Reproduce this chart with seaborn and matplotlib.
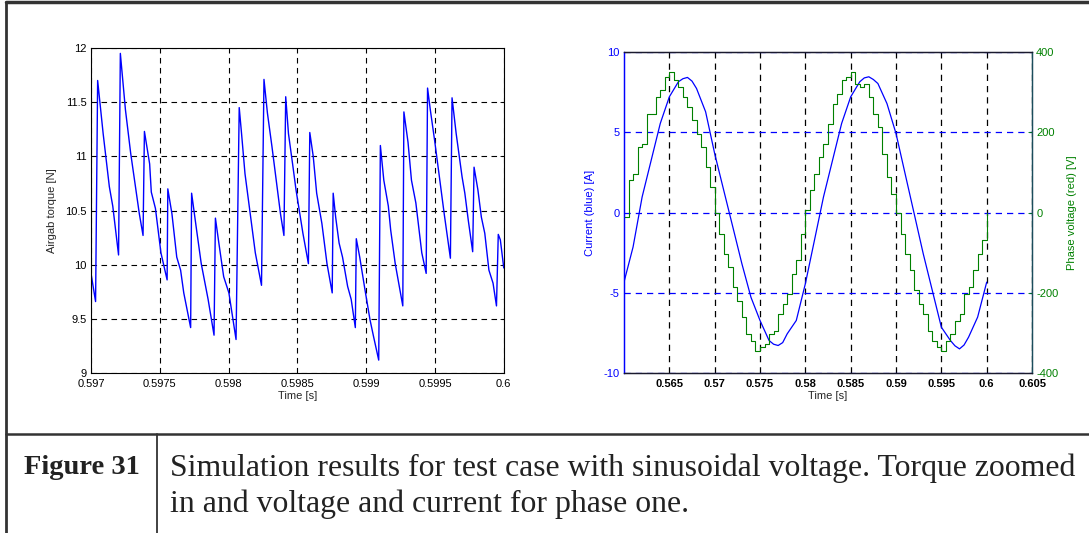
import matplotlib
matplotlib.use("Agg")
import matplotlib.pyplot as plt
import seaborn as sns
import pandas as pd
from matplotlib.lines import Line2D

# ---------------- data ----------------
torque_time = [0.597000, 0.597033, 0.597048, 0.597088, 0.597133, 0.597158, 0.597200,
               0.597213, 0.597250, 0.597288, 0.597351, 0.597378,
               0.597388, 0.597426, 0.597438, 0.597468, 0.597508, 0.597553,
               0.597558, 0.597588, 0.597623, 0.597651, 0.597674, 0.597724,
               0.597731, 0.597764, 0.597801, 0.597851, 0.597894,
               0.597904, 0.597929, 0.597964, 0.598002, 0.598054,
               0.598077, 0.598094, 0.598119, 0.598154, 0.598194, 0.598239,
               0.598257, 0.598282, 0.598315, 0.598352, 0.598377, 0.598402,
               0.598415, 0.598435, 0.598465, 0.598490, 0.598540, 0.598580,
               0.598590, 0.598615, 0.598640, 0.598678, 0.598715, 0.598753,
               0.598760, 0.598778, 0.598803, 0.598828, 0.598865, 0.598891, 0.598921,
               0.598928, 0.598953, 0.598991, 0.599028, 0.599053, 0.599091,
               0.599103, 0.599128, 0.599161, 0.599178, 0.599211, 0.599266,
               0.599274, 0.599304, 0.599329, 0.599361, 0.599404, 0.599436,
               0.599446, 0.599466, 0.599497, 0.599529, 0.599567, 0.599612,
               0.599624, 0.599654, 0.599697, 0.599717, 0.599742, 0.599774,
               0.599784, 0.599812, 0.599837, 0.599862, 0.599892, 0.599922, 0.599947,
               0.599960, 0.599975, 0.600000]
torque_value = [9.92, 9.66, 11.70, 11.21, 10.72, 10.54, 10.09,
                11.95, 11.43, 11.03, 10.47, 10.27,
                11.23, 10.93, 10.67, 10.52, 10.11, 9.86,
                10.70, 10.47, 10.07, 9.95, 9.74, 9.42,
                10.66, 10.35, 10.01, 9.68, 9.35,
                10.43, 10.20, 9.89, 9.74, 9.31,
                11.45, 11.21, 10.84, 10.50, 10.11, 9.81,
                11.71, 11.40, 11.09, 10.72, 10.47, 10.27,
                11.55, 11.21, 10.93, 10.69, 10.29, 10.01,
                11.22, 11.00, 10.66, 10.38, 10.01, 9.74,
                10.66, 10.44, 10.20, 10.07, 9.80, 9.68, 9.42,
                10.24, 10.07, 9.77, 9.49, 9.34, 9.12,
                11.10, 10.78, 10.54, 10.32, 10.01, 9.62,
                11.41, 11.13, 10.78, 10.57, 10.11, 9.92,
                11.63, 11.43, 11.15, 10.84, 10.47, 10.06,
                11.54, 11.21, 10.81, 10.66, 10.41, 10.12,
                10.90, 10.69, 10.44, 10.29, 9.95, 9.83, 9.62,
                10.28, 10.23, 9.97]

current_time = [0.560, 0.561, 0.562, 0.563, 0.564, 0.565, 0.566, 0.5665, 0.567, 0.5675,
                0.568, 0.569,
                0.570, 0.571, 0.572, 0.573, 0.574, 0.575, 0.576, 0.5765, 0.577, 0.5775,
                0.578, 0.579,
                0.580, 0.581, 0.582, 0.583, 0.584, 0.585, 0.586, 0.5865, 0.587, 0.5875,
                0.588, 0.589,
                0.590, 0.591, 0.592, 0.593, 0.594, 0.595, 0.596, 0.5965, 0.597, 0.5975,
                0.598, 0.599,
                0.600]
current_value = [-4.33, -2.14, 0.98, 3.27, 5.56, 7.22, 8.16, 8.35, 8.43, 8.20,
                 7.74, 6.29,
                 3.68, 1.39, -0.89, -3.18, -5.27, -6.72, -7.97, -8.20, -8.28, -8.10,
                 -7.55, -6.72,
                 -4.43, -1.73, 0.98, 3.27, 5.56, 7.22, 8.16, 8.40, 8.47, 8.30,
                 8.05, 6.80,
                 4.93, 2.43, -0.06, -2.56, -4.85, -7.14, -7.97, -8.30, -8.49, -8.25,
                 -7.76, -6.51,
                 -4.33]

voltage_time = [0.5600, 0.5605, 0.5610, 0.5615, 0.5620, 0.5625, 0.5630, 0.5635, 0.5640, 0.5645,
                0.5650, 0.5655, 0.5660, 0.5665, 0.5670, 0.5675, 0.5680, 0.5685, 0.5690, 0.5695,
                0.5700, 0.5705, 0.5710, 0.5715, 0.5720, 0.5725, 0.5730, 0.5735, 0.5740, 0.5745,
                0.5750, 0.5755, 0.5760, 0.5765, 0.5770, 0.5775, 0.5780, 0.5785, 0.5790, 0.5795,
                0.5800, 0.5805, 0.5810, 0.5815, 0.5820, 0.5825, 0.5830, 0.5835, 0.5840, 0.5845,
                0.5850, 0.5855, 0.5860, 0.5865, 0.5870, 0.5875, 0.5880, 0.5885, 0.5890, 0.5895,
                0.5900, 0.5905, 0.5910, 0.5915, 0.5920, 0.5925, 0.5930, 0.5935, 0.5940, 0.5945,
                0.5950, 0.5955, 0.5960, 0.5965, 0.5970, 0.5975, 0.5980, 0.5985, 0.5990, 0.5995,
                0.6000]
voltage_value = [-11, 81, 97, 164, 172, 247, 247, 289, 306, 339,
                 351, 331, 314, 289, 264, 231, 197, 164, 114, 64,
                 -2, -52, -102, -136, -186, -219, -261, -302, -319, -344,
                 -336, -327, -302, -294, -252, -227, -202, -152, -119, -52,
                 6, 56, 97, 139, 172, 222, 272, 297, 331, 339,
                 351, 322, 314, 322, 289, 247, 214, 147, 89, 47,
                 -2, -52, -102, -144, -194, -227, -252, -294, -319, -336,
                 -344, -319, -302, -269, -252, -202, -186, -144, -102, -69,
                 -2]

torque_xticks = [0.597, 0.5975, 0.598, 0.5985, 0.599, 0.5995, 0.6]
torque_xlabels = ["0.597", "0.5975", "0.598", "0.5985", "0.599", "0.5995", "0.6"]
torque_yticks = [9, 9.5, 10, 10.5, 11, 11.5, 12]
torque_ylabels = ["9", "9.5", "10", "10.5", "11", "11.5", "12"]
phase_xticks = [0.565, 0.57, 0.575, 0.58, 0.585, 0.59, 0.595, 0.6, 0.605]
phase_xlabels = ["0.565", "0.57", "0.575", "0.58", "0.585", "0.59", "0.595", "0.6", "0.605"]
current_yticks = [-10, -5, 0, 5, 10]
voltage_yticks = [-400, -200, 0, 200, 400]

# ---------------- style ----------------
sns.set_theme(style="white")
plt.rcParams["font.family"] = ["Liberation Sans", "DejaVu Sans"]
plt.rcParams["axes.unicode_minus"] = False

BLUE = "#0000ff"
GREEN = "#008000"
DASH = (0, (5, 4))
TFS = 8

fig = plt.figure(figsize=(10.89, 5.33), dpi=100)
fig.patch.set_facecolor("white")

# ---------------- left panel: torque ----------------
df_t = pd.DataFrame({"time": torque_time, "torque": torque_value})
ax1 = fig.add_axes([0.0836, 0.300, 0.379, 0.610])
sns.lineplot(data=df_t, x="time", y="torque", ax=ax1, color=BLUE, linewidth=1.0,
             sort=False, estimator=None)
ax1.set_xlim(0.597, 0.6)
ax1.set_ylim(9, 12)
ax1.set_xticks(torque_xticks)
ax1.set_xticklabels(torque_xlabels)
ax1.set_yticks(torque_yticks)
ax1.set_yticklabels(torque_ylabels)
ax1.grid(True, color="black", linestyle=DASH, linewidth=0.8)
ax1.set_axisbelow(True)
for s in ax1.spines.values():
    s.set_visible(True)
    s.set_color("black")
    s.set_linewidth(0.8)
ax1.tick_params(axis="x", direction="in", length=3, width=0.6, labelsize=TFS, pad=4,
                top=True, colors="black")
ax1.tick_params(axis="y", direction="in", length=3, width=0.6, labelsize=TFS, pad=3,
                right=True, colors="black")
ax1.set_xlabel("Time [s]", fontsize=TFS, labelpad=2)
ax1.set_ylabel("Airgab torque [N]", fontsize=TFS, labelpad=6)

# ---------------- right panel: current & voltage ----------------
df_c = pd.DataFrame({"time": current_time, "current": current_value})
df_v = pd.DataFrame({"time": voltage_time, "voltage": voltage_value})

ax3 = fig.add_axes([0.573, 0.300, 0.3747, 0.602])
sns.lineplot(data=df_c, x="time", y="current", ax=ax3, color=BLUE, linewidth=0.9,
             sort=False, estimator=None)
ax3.set_xlim(0.56, 0.605)
ax3.set_ylim(-10, 10)
ax3.set_xticks(phase_xticks)
ax3.set_xticklabels(phase_xlabels, fontweight="bold")
ax3.set_yticks(current_yticks)
ax3.set_yticklabels([str(v) for v in current_yticks])
ax3.yaxis.grid(True, color=BLUE, linestyle=DASH, linewidth=0.9)
ax3.xaxis.grid(True, color="black", linestyle=DASH, linewidth=0.9)
ax3.set_axisbelow(True)
ax3.tick_params(axis="x", direction="in", length=3, width=0.6, labelsize=TFS, pad=4,
                top=True, colors="black")
ax3.tick_params(axis="y", direction="in", length=3, width=0.6, labelsize=TFS, pad=3,
                colors=BLUE)
ax3.set_xlabel("Time [s]", fontsize=TFS, labelpad=2)
ax3.set_ylabel("Current (blue) [A]", fontsize=TFS, color=BLUE, labelpad=6)

ax4 = ax3.twinx()
sns.lineplot(data=df_v, x="time", y="voltage", ax=ax4, color=GREEN, linewidth=0.8,
             sort=False, estimator=None, drawstyle="steps-post")
ax4.set_xlim(0.56, 0.605)
ax4.set_ylim(-400, 400)
ax4.set_yticks(voltage_yticks)
ax4.set_yticklabels([str(v) for v in voltage_yticks])
ax4.tick_params(axis="y", direction="in", length=3, width=0.6, labelsize=TFS, pad=3,
                colors=GREEN)
ax4.set_ylabel("Phase voltage (red) [V]", fontsize=TFS, color=GREEN, labelpad=6)
for ax in (ax3, ax4):
    for name, s in ax.spines.items():
        s.set_visible(True)
        s.set_linewidth(0.9)
    ax.spines["left"].set_color(BLUE)
    ax.spines["right"].set_color("#1b4d5c")
    ax.spines["top"].set_color("#1a1a2e")
    ax.spines["bottom"].set_color("#1a1a2e")

# ---------------- frame and caption ----------------
H, W = 533.0, 1089.0
frame_col = "#333333"
fig.add_artist(Line2D([6 / W, 1.0], [1 - 2 / H, 1 - 2 / H], color=frame_col, linewidth=2.5))
fig.add_artist(Line2D([6 / W, 6 / W], [0.0, 1 - 2 / H], color=frame_col, linewidth=2.0))
fig.add_artist(Line2D([6 / W, 1.0], [1 - 434 / H, 1 - 434 / H], color=frame_col, linewidth=1.8))
fig.add_artist(Line2D([157 / W, 157 / W], [0.0, 1 - 434 / H], color=frame_col, linewidth=1.3))

serif = ["Liberation Serif", "DejaVu Serif"]
fig.text(24 / W, 1 - 468 / H, "Figure 31", family=serif, fontweight="bold",
         fontsize=20.5, ha="left", va="center", color="#222222")
fig.text(170 / W, 1 - 468 / H,
         "Simulation results for test case with sinusoidal voltage. Torque zoomed",
         family=serif, fontsize=22.9, ha="left", va="center", color="#222222")
fig.text(170 / W, 1 - 504 / H, "in and voltage and current for phase one.",
         family=serif, fontsize=22.9, ha="left", va="center", color="#222222")

fig.savefig("out.png", dpi=100, facecolor="white")
